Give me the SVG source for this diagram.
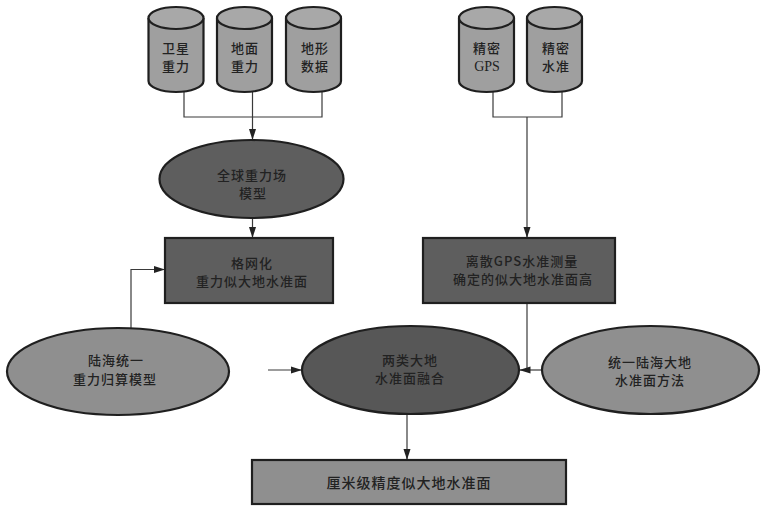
<svg xmlns="http://www.w3.org/2000/svg" width="764" height="512" viewBox="0 0 764 512">
<style>
text{font-family:"Noto Sans CJK SC","Liberation Serif",serif;font-size:13px;letter-spacing:1px;font-weight:500;fill:#222;text-anchor:middle}
.latin{font-family:"Liberation Serif","Noto Sans CJK SC",serif;font-size:14px;letter-spacing:0}
.s{stroke:#1f1f1f;stroke-width:2.2}
.l{stroke:#3a3a3a;stroke-width:1.2;fill:none}
.a{stroke:#3a3a3a;stroke-width:1.2;fill:none;marker-end:url(#ah)}
.body{fill:#9f9f9f}.top{fill:#a8a8a8}
.dark{fill:#5e5e5e}.darker{fill:#575757}.mid{fill:#8f8f8f}
</style>
<defs>
<marker id="ah" markerUnits="userSpaceOnUse" markerWidth="11" markerHeight="8" refX="11" refY="4" orient="auto"><path d="M0 0.5L11 4L0 7.5Z" fill="#222"/></marker>
<g id="cyl"><path class="s body" d="M-27.5 18V81C-27.5 87 -15 92 0 92S27.5 87 27.5 81V18"/><ellipse class="s top" cx="0" cy="18" rx="27.5" ry="11"/></g>
</defs>
<rect width="764" height="512" fill="#fff"/>
<g id="connectors">
<path class="l" d="M184 92V117H322V92"/>
<path class="a" d="M252.500 92V140"/>
<path class="l" d="M493 92V117H562V92"/>
<path class="a" d="M527 117V238"/>
<path class="a" d="M252.500 218V238"/>
<path class="a" d="M131 328V269.500H165"/>
<path class="a" d="M268 370H302"/>
<path class="a" d="M407 414V460"/>
<path class="l" d="M527 303V370"/>
<path class="a" d="M542 370H519.500"/>
</g>
<g id="cyl-satellite"><use href="#cyl" x="176"/><text x="176" y="53">卫星</text><text x="176" y="71">重力</text></g>
<g id="cyl-ground"><use href="#cyl" x="244.500"/><text x="245" y="53">地面</text><text x="245" y="71">重力</text></g>
<g id="cyl-terrain"><use href="#cyl" x="313.500"/><text x="315" y="53">地形</text><text x="315" y="71">数据</text></g>
<g id="cyl-gps"><use href="#cyl" x="486.500"/><text x="487" y="53">精密</text><text class="latin" x="487" y="71">GPS</text></g>
<g id="cyl-level"><use href="#cyl" x="554.500"/><text x="556" y="53">精密</text><text x="556" y="71">水准</text></g>
<g id="global-model"><ellipse class="s dark" cx="251.500" cy="179" rx="92" ry="39"/><text x="252" y="180">全球重力场</text><text x="253" y="198">模型</text></g>
<g id="grid-geoid"><rect class="s dark" x="165" y="238" width="168" height="65"/><text x="252" y="268">格网化</text><text x="252" y="286">重力似大地水准面</text></g>
<g id="gps-geoid"><rect class="s dark" x="423" y="238" width="192" height="65"/><text x="522" y="266">离散GPS水准测量</text><text x="523" y="284">确定的似大地水准面高</text></g>
<g id="reduction-model"><ellipse class="s mid" cx="118" cy="371.500" rx="111" ry="43.500"/><text x="116" y="365">陆海统一</text><text x="115" y="384">重力归算模型</text></g>
<g id="fusion"><ellipse class="s darker" cx="410.500" cy="370" rx="108.500" ry="44"/><text x="410" y="365">两类大地</text><text x="410" y="383">水准面融合</text></g>
<g id="unified-method"><ellipse class="s mid" cx="650.500" cy="370" rx="108.500" ry="44"/><text x="650" y="367">统一陆海大地</text><text x="650" y="385">水准面方法</text></g>
<g id="cm-geoid"><rect class="s mid" x="252" y="460" width="314" height="44"/><text x="409" y="488" style="font-size:14px">厘米级精度似大地水准面</text></g>
</svg>
